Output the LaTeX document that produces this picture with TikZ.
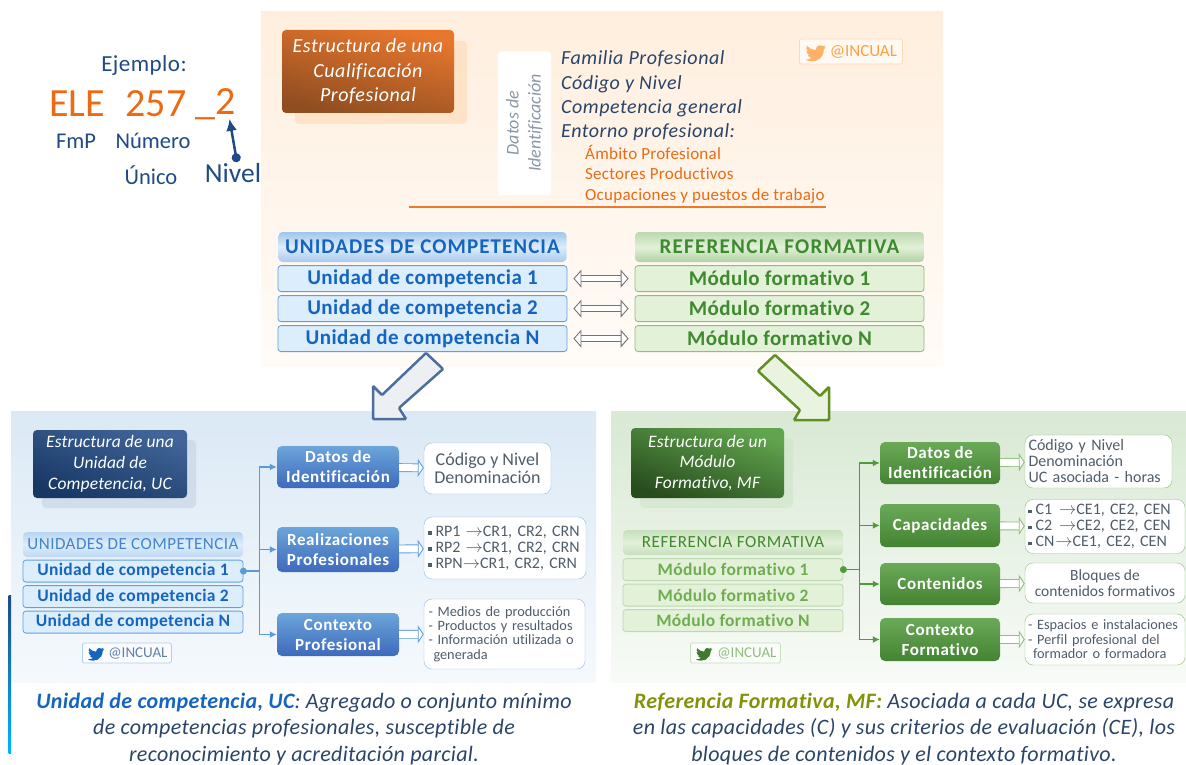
\documentclass[tikz,border=0pt]{standalone}
\usepackage{fontspec}
\setmainfont{Carlito}[Ligatures=NoCommon]
\usetikzlibrary{positioning, arrows.meta, shadows}

\definecolor{naranja}{HTML}{EC6A12}
\definecolor{naranjaalto}{HTML}{E8772E}
\definecolor{naranjabajo}{HTML}{8F4D20}
\definecolor{azuloscuro}{HTML}{1F4A86}
\definecolor{textoazul}{HTML}{2A4468}
\definecolor{azulfuerte}{HTML}{1565C0}
\definecolor{azulborde}{HTML}{629FE0}
\definecolor{azulfila}{HTML}{DCEDFB}
\definecolor{azulmedio}{HTML}{5B9BD5}
\definecolor{verdefuerte}{HTML}{3E8A2E}
\definecolor{verdeborde}{HTML}{8FBF7A}
\definecolor{verdefila}{HTML}{E2F1D8}
\definecolor{verdemedio}{HTML}{4F9A3A}
\definecolor{verdeclaro}{HTML}{6FAE50}
\definecolor{grisbox}{HTML}{4F5D6B}

\newcommand{\itm}{\rule[1.5pt]{3.5pt}{3.5pt}\hspace{4pt}}
\newcommand{\tto}{$\rightarrow$}
\newcommand{\ls}[1]{\addfontfeatures{LetterSpace=#1}}

\begin{document}
\begin{tikzpicture}[
    x=1pt, y=-1pt,
    every node/.style={inner sep=0pt, align=center},
    size/.style 2 args={minimum width=#1, minimum height=#2},
    fnt/.style n args={3}{font=\fontsize{#1}{#2}\selectfont\ls{#3}},
    titlebox/.style={rounded corners=4pt, text=white, font=\itshape\fontsize{17.5}{20.7}\selectfont\ls{1}},
    topcell/.style={rounded corners=3pt, thick, font=\bfseries\fontsize{21}{24}\selectfont\ls{2.2}},
    lowcell/.style={rounded corners=3pt, thick, font=\bfseries\fontsize{17.5}{20}\selectfont\ls{2}},
    ucrow/.style={draw=azulborde, fill=azulfila, text=azulfuerte},
    mfrow/.style={draw=verdeborde, fill=verdefila, text=verdefuerte},
    mflow/.style={draw=verdeborde!60, fill=verdefila, text=verdeclaro},
    ucbox/.style={rounded corners=5pt, top color=azulmedio!90!white, bottom color=azulmedio!80!blue!85!black, text=white, font=\bfseries\fontsize{17}{20}\selectfont\ls{3.6}},
    mfbox/.style={rounded corners=5pt, top color=verdemedio!85, bottom color=verdemedio!85!black, text=white, font=\bfseries\fontsize{17}{20}\selectfont\ls{3.6}},
    ucnote/.style={draw=azulborde!70, fill=white, rounded corners=8pt, text=grisbox},
    mfnote/.style={draw=verdeborde, fill=white, rounded corners=8pt, text=grisbox},
    badge/.style={rounded corners=2pt, thick, fill=white, fill opacity=.6, text opacity=1},
    bird/.pic={
        \fill (24,4.6) -- (21.2,5.4) -- (23.3,2.6) -- (20.2,3.8) .. controls (18,1.4) and (12.8,2.6) .. (11.8,8.3)
            .. controls (7.7,8.1) and (4.1,6.1) .. (1.6,3.2) .. controls (0.3,5.4) and (1,8.3) .. (3.2,9.7)
            -- (0.9,9.1) .. controls (1,11.4) and (2.6,13.4) .. (4.9,14) -- (2.7,14.1)
            .. controls (3.4,16.1) and (5.3,17.4) .. (7.3,17.5) .. controls (5.3,19.1) and (2.8,19.8) .. (0,19.5)
            .. controls (9,25) and (21.5,19.5) .. (21.6,7.5) -- cycle;
    },
    twoway/.style={double=white, double distance=5.5pt, line width=.9pt, draw=gray!90!black, shorten >=6pt, shorten <=6pt,
        {Triangle[open, fill=white, length=8pt, width=18pt]}-{Triangle[open, fill=white, length=8pt, width=18pt]}},
    oneway/.style={double=white, double distance=7pt, line width=.9pt, draw=#1,
        -{Triangle[open, fill=white, length=6pt, width=18pt]}},
    ucline/.style={draw=azulmedio, line width=1.5pt, -{Latex[length=7pt, width=7pt]}},
    mfline/.style={draw=verdemedio, line width=1.5pt, -{Latex[length=7pt, width=7pt]}}
]
    \useasboundingbox (0,0) rectangle (1186,765);

    % Panels
    \fill[top color=orange!13!white, bottom color=orange!3] (261,12) rectangle (943,366);
    \fill[top color=azulmedio!22, bottom color=azulmedio!6] (11,411) rectangle (596,682);
    \fill[top color=verdemedio!22, bottom color=verdemedio!4] (611,411) rectangle (1186,682);
    \fill[top color=azuloscuro, bottom color=cyan!70!blue] (8.5,595) rectangle (11,753);

    % Example code
    \node[text=azuloscuro, fnt={23}{26}{2}] (ejemplo) at (144,65.5) {Ejemplo:};
    \node[text=naranja, fnt={40}{42}{0}] (ele) at (77,104) {ELE};
    \node[text=naranja, fnt={40}{42}{0}] (num) at (156,104) {257};
    \node[text=naranja, fnt={40}{42}{0}] (dos) at (215.5,104) {\_2};
    \node[text=azuloscuro, fnt={22.5}{26}{0}] (fmp) at (76,141) {FmP};
    \node[text=azuloscuro, fnt={22.5}{26}{0}] (numero) at (153,141) {Número};
    \node[text=azuloscuro, fnt={22.5}{26}{0}] (unico) at (151,175) {Único};
    \node[text=azuloscuro, fnt={27.5}{30}{0}] (nivel) at (233,173) {Nivel};
    \draw[azuloscuro, line width=2.5pt, {Circle[length=9pt]}-{Latex[length=12pt, width=11pt]}]
        ([xshift=4pt, yshift=1pt]nivel.north) -- ([xshift=14pt, yshift=1pt]dos.south);

    % Main structure
    \node[titlebox, size={172}{83}, top color=naranjaalto, bottom color=naranjabajo, shading angle=-15,
        font=\itshape\fontsize{20}{24.5}\selectfont\ls{2.6}, drop shadow={shadow xshift=13pt, shadow yshift=-11pt, fill=orange!35, opacity=.45}]
        (titulo) at (368,71.5) {Estructura de una\\Cualificación\\Profesional};
    \node[fill=white, rounded corners=3pt, size={53}{143}] (datosbox) at (524.5,123) {};
    \node[rotate=90, text=gray!60!azuloscuro!70!white, font=\itshape\fontsize{18}{22}\selectfont] (datos) at (datosbox) {Datos de\\Identificación};
    \node[anchor=west, text=textoazul, font=\itshape\fontsize{20}{24.4}\selectfont\ls{2.7}, align=left] (listaqc) at (561,96)
        {Familia Profesional\\Código y Nivel\\Competencia general\\Entorno profesional:};
    \node[anchor=west, text=naranja, fnt={17}{20.5}{1.5}, align=left] (entorno) at (585,174)
        {Ámbito Profesional\\Sectores Productivos\\Ocupaciones y puestos de trabajo};
    \coordinate (regla1) at (409,207);
    \coordinate (regla2) at (826,207);
    \draw[naranja!90, line width=1.6pt] (regla1) -- (regla2);

    \node[badge, draw=orange!30, size={103}{25}, text=orange!75!white, fnt={17}{18}{0}, anchor=west] (tw1) at (799,51.5) {\hspace{25pt}@INCUAL};
    \pic[orange!60!white, scale=.85] at (805.5,43) {bird};

    \node[size={288}{30}, rounded corners=4pt, top color=azulborde!60, bottom color=azulborde!55, middle color=azulfila, text=azulfuerte, font=\bfseries\fontsize{21}{24}\selectfont\ls{5}] (uchead) at (422.5,247) {UNIDADES DE COMPETENCIA};
    \node[topcell, ucrow, size={289}{26}, below=3pt of uchead] (uc1) {Unidad de competencia 1};
    \node[topcell, ucrow, size={289}{26}, below=3.2pt of uc1] (uc2) {Unidad de competencia 2};
    \node[topcell, ucrow, size={289}{26}, below=3.2pt of uc2] (ucn) {Unidad de competencia N};

    \node[size={289}{30}, rounded corners=4pt, top color=verdeborde!60, bottom color=verdeborde!70, middle color=verdefila, text=verdefuerte, font=\bfseries\fontsize{21}{24}\selectfont\ls{6}] (mfhead) at (779.5,247) {REFERENCIA FORMATIVA};
    \node[topcell, mfrow, size={289}{26}, below=3pt of mfhead] (mf1) {Módulo formativo 1};
    \node[topcell, mfrow, size={289}{26}, below=3.2pt of mf1] (mf2) {Módulo formativo 2};
    \node[topcell, mfrow, size={289}{26}, below=3.2pt of mf2] (mfn) {Módulo formativo N};

    \draw[twoway] (uc1) -- (mf1);
    \draw[twoway] (uc2) -- (mf2);
    \draw[twoway] (ucn) -- (mfn);

    % Big arrows
    \draw[draw=azuloscuro!80!white, fill=azulfila!70!gray!30!white, line width=2.5pt, rounded corners=1pt]
        (426,353) -- (443,369) -- (399,408) -- (406,419) -- (373,419) -- (373,386) -- (382,395) -- cycle;
    \draw[draw=verdemedio!60!olive, fill=verdefila!80!white, line width=2.5pt, rounded corners=1pt]
        (775,355) -- (758,371) -- (800,410) -- (794,420) -- (829,420) -- (829,387) -- (820,396) -- cycle;

    % UC structure
    \node[titlebox, size={154}{68}, top color=azuloscuro!85!white, bottom color=azuloscuro!75!black, shading angle=-20,
        drop shadow={shadow xshift=9pt, shadow yshift=-10pt, fill=azuloscuro!30, opacity=.45}]
        (tituc) at (110,464) {Estructura de una\\Unidad de\\Competencia, UC};
    \node[size={220}{25}, rounded corners=4pt, top color=azulborde!45, bottom color=azulborde!40, middle color=azulfila, text=azulfuerte!80!white, fnt={17}{18}{2.8}] (uchead2) at (133,544.5) {UNIDADES DE COMPETENCIA};
    \node[lowcell, ucrow, size={220}{22}, below=2.5pt of uchead2] (lowuc1) {Unidad de competencia 1};
    \node[lowcell, ucrow, size={220}{22}, below=2.7pt of lowuc1] (lowuc2) {Unidad de competencia 2};
    \node[lowcell, ucrow, size={220}{22}, below=2.7pt of lowuc2] (lowucn) {Unidad de competencia N};
    \node[badge, draw=azulborde!50, size={89}{20}, text=azuloscuro!70!white, fnt={15}{16}{0}, anchor=west] (tw2) at (82,653) {\hspace{22pt}@INCUAL};
    \pic[azulfuerte, scale=.68] at (88,646) {bird};

    \node[ucbox, size={122}{42}] (ucdatos) at (338,467) {Datos de\\Identificación};
    \node[ucbox, size={122}{45}] (ucreal) at (338,549.5) {Realizaciones\\Profesionales};
    \node[ucbox, size={122}{43}] (ucctx) at (338,634.5) {Contexto\\Profesional};

    \node[ucnote, size={127}{51}, fnt={18}{17.7}{0}] (uccod) at (487.5,468.5) {Código y Nivel\\Denominación};
    \node[ucnote, size={162}{62}, fnt={16}{16}{0}, text width=154pt, align=left] (ucrp) at (505,548)
        {\itm RP1\hspace{5pt}\tto CR1, CR2, CRN\\\itm RP2\hspace{5pt}\tto CR1, CR2, CRN\\\itm RPN\tto CR1, CR2, CRN};
    \node[ucnote, size={161}{70}, fnt={14.3}{14.3}{0}, text width=152pt, align=left] (ucmed) at (504.5,634)
        {- Medios de producción\\- Productos y resultados\\- Información utilizada o\\\hspace{5pt}generada};

    \fill[azulmedio] (lowuc1.east) circle (3.5);
    \draw[azulmedio, line width=1.5pt] (lowuc1.east) -- ++(16,0) coordinate (ucfork);
    \draw[ucline] (ucfork) |- (ucdatos.west);
    \draw[ucline] (ucfork) |- (ucreal.west);
    \draw[ucline] (ucfork) |- (ucctx.west);
    \draw[oneway=azulborde] (ucdatos) -- (uccod);
    \draw[oneway=azulborde] (ucreal) -- (ucrp);
    \draw[oneway=azulborde] (ucctx) -- (ucmed);

    % MF structure
    \node[titlebox, size={153}{70}, top color=verdemedio!90!white, bottom color=verdemedio!50!black, shading angle=-20,
        drop shadow={shadow xshift=9pt, shadow yshift=-10pt, fill=verdemedio!30, opacity=.45}]
        (titmf) at (707.5,463) {Estructura de un\\Módulo\\Formativo, MF};
    \node[size={220}{25}, rounded corners=4pt, top color=verdeborde!50, bottom color=verdeborde!50, middle color=verdefila, text=verdefuerte, fnt={17}{18}{3.5}] (mfhead2) at (733,542.5) {REFERENCIA FORMATIVA};
    \node[lowcell, mflow, size={220}{22}, below=3pt of mfhead2] (lowmf1) {Módulo formativo 1};
    \node[lowcell, mflow, size={220}{22}, below=2.7pt of lowmf1] (lowmf2) {Módulo formativo 2};
    \node[lowcell, mflow, size={220}{22}, below=2.7pt of lowmf2] (lowmfn) {Módulo formativo N};
    \node[badge, draw=verdeborde!50, size={90}{20}, text=verdeborde, fnt={15}{16}{0}, anchor=west] (tw3) at (690,653) {\hspace{23pt}@INCUAL};
    \pic[verdemedio!80!black, scale=.68] at (696,646) {bird};

    \node[mfbox, size={120}{42}] (mfdatos) at (940,463) {Datos de\\Identificación};
    \node[mfbox, size={120}{43}] (mfcap) at (940,525.5) {Capacidades};
    \node[mfbox, size={120}{42}] (mfcont) at (940,584) {Contenidos};
    \node[mfbox, size={120}{43}] (mfctx) at (940,639.5) {Contexto\\Formativo};

    \node[mfnote, size={147}{53}, fnt={16}{16}{0}, text width=140pt, align=left] (mfcod) at (1098.5,461.5) {Código y Nivel\\Denominación\\UC asociada - horas};
    \node[mfnote, size={160}{54}, fnt={16}{16}{0}, text width=154pt, align=left] (mfce) at (1105,526.5)
        {\itm C1\hspace{7pt}\tto CE1, CE2, CEN\\\itm C2\hspace{7pt}\tto CE2, CE2, CEN\\\itm CN\hspace{1pt}\tto CE1, CE2, CEN};
    \node[mfnote, size={160}{40}, fnt={15.5}{16}{0}] (mfblo) at (1105,583) {Bloques de\\contenidos formativos};
    \node[mfnote, size={160}{51}, fnt={14.3}{14.5}{0}, text width=154pt, align=left] (mfesp) at (1105,639.5)
        {- Espacios e instalaciones\\- Perfil profesional del\\\hspace{5pt}formador o formadora};

    \fill[verdemedio] (lowmf1.east) circle (3.5);
    \draw[verdemedio, line width=1.5pt] (lowmf1.east) -- ++(16,0) coordinate (mffork);
    \draw[mfline] (mffork) |- (mfdatos.west);
    \draw[mfline] (mffork) |- (mfcap.west);
    \draw[mfline] (mffork) |- (mfcont.west);
    \draw[mfline] (mffork) |- (mfctx.west);
    \draw[oneway=verdeborde] (mfdatos) -- (mfcod);
    \draw[oneway=verdeborde] (mfcap) -- (mfce);
    \draw[oneway=verdeborde] (mfcont) -- (mfblo);
    \draw[oneway=verdeborde] (mfctx) -- (mfesp);

    % Captions
    \node[text=textoazul, font=\itshape\fontsize{22}{26.5}\selectfont\ls{1.5}] (capuc) at (304,729)
        {\textcolor{azulfuerte}{\textbf{Unidad de competencia, UC}}: Agregado o conjunto mínimo\\de competencias profesionales, susceptible de\\reconocimiento y acreditación parcial.};
    \node[text=textoazul, font=\itshape\fontsize{22}{26.5}\selectfont\ls{1.5}] (capmf) at (904,729)
        {\textcolor{olive!80!green}{\textbf{Referencia Formativa, MF:}} Asociada a cada UC, se expresa\\en las capacidades (C) y sus criterios de evaluación (CE), los\\bloques de contenidos y el contexto formativo.};

\end{tikzpicture}
\end{document}
